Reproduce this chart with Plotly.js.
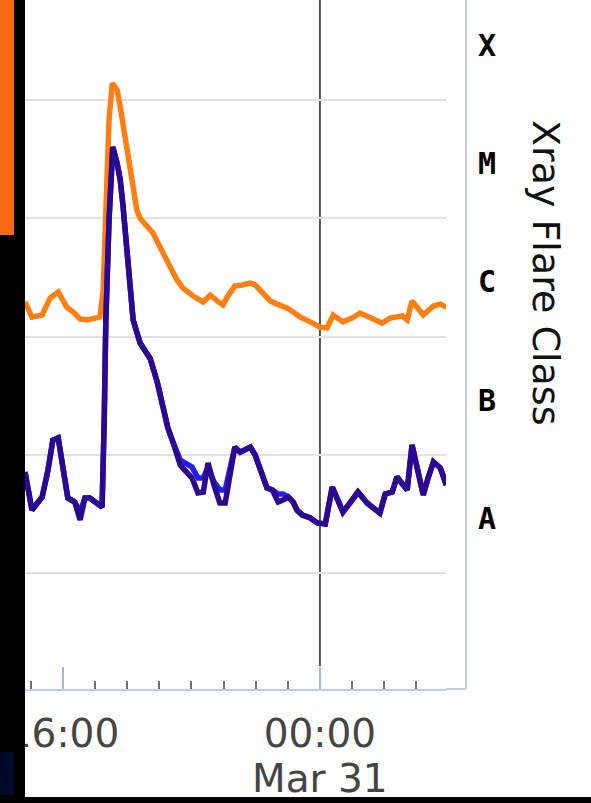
<!DOCTYPE html>
<html>
<head>
<meta charset="utf-8">
<script src="https://cdn.plot.ly/plotly-3.0.1.min.js"></script>
<style>
html,body{margin:0;padding:0;background:#fff;}
#chart{width:591px;height:803px;}
</style>
</head>
<body>
<div id="chart"></div>
<script>
// GOES X-ray flux, long channel (1-8 Å), W/m²
const longTimes = [
"2022-03-30 14:49","2022-03-30 15:02","2022-03-30 15:21","2022-03-30 15:36","2022-03-30 15:51",
"2022-03-30 16:07","2022-03-30 16:19","2022-03-30 16:32","2022-03-30 16:45","2022-03-30 17:09",
"2022-03-30 17:15","2022-03-30 17:20","2022-03-30 17:26","2022-03-30 17:32","2022-03-30 17:41",
"2022-03-30 17:47","2022-03-30 18:00","2022-03-30 18:11","2022-03-30 18:18","2022-03-30 18:24",
"2022-03-30 18:37","2022-03-30 18:48","2022-03-30 19:07","2022-03-30 19:20","2022-03-30 19:33",
"2022-03-30 19:44","2022-03-30 20:03","2022-03-30 20:22","2022-03-30 20:35","2022-03-30 20:48",
"2022-03-30 20:59","2022-03-30 21:08","2022-03-30 21:21","2022-03-30 21:35","2022-03-30 21:50",
"2022-03-30 21:59","2022-03-30 22:12","2022-03-30 22:27","2022-03-30 22:40","2022-03-30 22:59",
"2022-03-30 23:10","2022-03-30 23:23","2022-03-30 23:42","2022-03-31 00:00","2022-03-31 00:13",
"2022-03-31 00:25","2022-03-31 00:43","2022-03-31 01:00","2022-03-31 01:15","2022-03-31 01:34",
"2022-03-31 01:56","2022-03-31 02:11","2022-03-31 02:34","2022-03-31 02:43","2022-03-31 02:52",
"2022-03-31 03:13","2022-03-31 03:32","2022-03-31 03:45","2022-03-31 03:56"
];
const longFlux = [
1.96e-6,1.46e-6,1.52e-6,2.12e-6,2.38e-6,
1.77e-6,1.61e-6,1.41e-6,1.38e-6,1.46e-6,
2.47e-6,1.43e-5,6.77e-5,1.39e-4,1.22e-4,
8.73e-5,3.78e-5,1.73e-5,1.17e-5,1.00e-5,
8.60e-6,7.50e-6,5.08e-6,3.87e-6,3.01e-6,
2.57e-6,2.20e-6,1.96e-6,2.24e-6,2.00e-6,
1.85e-6,2.20e-6,2.67e-6,2.73e-6,2.83e-6,
2.73e-6,2.38e-6,2.00e-6,1.88e-6,1.74e-6,
1.61e-6,1.46e-6,1.33e-6,1.20e-6,1.18e-6,
1.52e-6,1.33e-6,1.43e-6,1.58e-6,1.43e-6,
1.30e-6,1.43e-6,1.49e-6,1.38e-6,2.00e-6,
1.52e-6,1.81e-6,1.88e-6,1.77e-6
];

// GOES X-ray flux, short channel (0.5-4 Å), W/m²
const shortTimes = [
"2022-03-30 14:49","2022-03-30 15:02","2022-03-30 15:21","2022-03-30 15:32","2022-03-30 15:41",
"2022-03-30 15:51","2022-03-30 16:09","2022-03-30 16:22","2022-03-30 16:32","2022-03-30 16:41",
"2022-03-30 16:50","2022-03-30 17:02","2022-03-30 17:13","2022-03-30 17:17","2022-03-30 17:20",
"2022-03-30 17:26","2022-03-30 17:30","2022-03-30 17:33","2022-03-30 17:41","2022-03-30 17:47",
"2022-03-30 17:52","2022-03-30 18:01","2022-03-30 18:11","2022-03-30 18:24","2022-03-30 18:33",
"2022-03-30 18:43","2022-03-30 18:56","2022-03-30 19:07","2022-03-30 19:16","2022-03-30 19:26",
"2022-03-30 19:39","2022-03-30 20:01","2022-03-30 20:12","2022-03-30 20:22","2022-03-30 20:31",
"2022-03-30 20:42","2022-03-30 20:53","2022-03-30 21:03","2022-03-30 21:12","2022-03-30 21:21",
"2022-03-30 21:31","2022-03-30 21:50","2022-03-30 21:59","2022-03-30 22:12","2022-03-30 22:21",
"2022-03-30 22:31","2022-03-30 22:42","2022-03-30 22:51","2022-03-30 23:01","2022-03-30 23:10",
"2022-03-30 23:17","2022-03-30 23:27","2022-03-30 23:42","2022-03-30 23:55","2022-03-31 00:10",
"2022-03-31 00:23","2022-03-31 00:32","2022-03-31 00:43","2022-03-31 00:56","2022-03-31 01:11",
"2022-03-31 01:28","2022-03-31 01:41","2022-03-31 01:52","2022-03-31 02:02","2022-03-31 02:15",
"2022-03-31 02:24","2022-03-31 02:34","2022-03-31 02:43","2022-03-31 02:52","2022-03-31 03:02",
"2022-03-31 03:13","2022-03-31 03:22","2022-03-31 03:32","2022-03-31 03:45","2022-03-31 03:56"
];
const shortFlux = [
7.14e-8,3.41e-8,4.39e-8,7.43e-8,1.33e-7,
1.39e-7,4.31e-8,3.98e-8,2.81e-8,4.31e-8,
4.31e-8,3.91e-8,3.61e-8,1.97e-7,1.38e-6,
9.66e-6,2.82e-5,4.01e-5,2.93e-5,2.10e-5,
1.29e-5,4.02e-6,1.38e-6,8.81e-7,7.69e-7,
6.50e-7,4.12e-7,2.39e-7,1.68e-7,1.26e-7,
8.19e-8,6.35e-8,4.75e-8,4.84e-8,8.51e-8,
5.55e-8,3.91e-8,3.91e-8,6.75e-8,1.16e-7,
1.05e-7,1.16e-7,9.95e-8,6.75e-8,5.24e-8,
5.04e-8,3.98e-8,4.14e-8,4.39e-8,3.98e-8,
3.41e-8,3.09e-8,2.92e-8,2.65e-8,2.60e-8,
5.33e-8,4.39e-8,3.28e-8,3.91e-8,4.84e-8,
3.91e-8,3.55e-8,3.21e-8,4.66e-8,4.84e-8,
6.49e-8,5.77e-8,5.04e-8,1.21e-7,7.43e-8,
4.57e-8,6.35e-8,8.69e-8,7.73e-8,5.55e-8
];
// secondary satellite, short channel
const shortFlux2 = [
7.14e-8,3.41e-8,4.39e-8,7.43e-8,1.33e-7,
1.39e-7,4.31e-8,3.98e-8,3.28e-8,4.31e-8,
4.31e-8,3.91e-8,3.61e-8,1.97e-7,1.38e-6,
9.66e-6,2.82e-5,4.01e-5,2.93e-5,2.10e-5,
1.29e-5,4.02e-6,1.38e-6,8.81e-7,7.69e-7,
6.50e-7,4.12e-7,2.39e-7,1.68e-7,1.26e-7,
9.03e-8,7.87e-8,6.35e-8,6.35e-8,7.87e-8,
5.89e-8,5.04e-8,5.04e-8,7.43e-8,1.16e-7,
1.05e-7,1.16e-7,9.95e-8,6.75e-8,5.24e-8,
5.04e-8,4.66e-8,4.66e-8,4.39e-8,3.98e-8,
3.41e-8,3.09e-8,2.92e-8,2.65e-8,2.60e-8,
5.33e-8,4.39e-8,3.28e-8,3.91e-8,4.84e-8,
3.91e-8,3.55e-8,3.21e-8,4.66e-8,4.84e-8,
6.49e-8,5.77e-8,5.04e-8,1.21e-7,7.43e-8,
4.57e-8,6.35e-8,8.69e-8,7.73e-8,5.55e-8
];

const decadeLines = [1e-8, 1e-7, 1e-6, 1e-5, 1e-4];
const classLabels = ["A", "B", "C", "M", "X"];
const classPos = [2.9e-8, 2.9e-7, 2.9e-6, 2.9e-5, 2.9e-4];
const timeTickVals = ["2022-03-30 16:00", "2022-03-31 00:00"];
const timeTickText = ["16:00", "00:00"];
const dayBoundary = "2022-03-31 00:00";
const dateLabel = "Mar 31";
const titleText = "Xray Flare Class";

// layout geometry (pixels)
const W = 591, H = 803, L = 25, R = 446, T = 0, B = 689;
const pw = R - L, ph = B - T;
const px = p => (p - L) / pw;
const py = p => (B - p) / ph;
const yRange = [-8.981, -3.154];
const xRange = ["2022-03-30 14:49", "2022-03-31 03:55:30"];

const traces = [
  {x: longTimes, y: longFlux, type: "scatter", mode: "lines",
   line: {color: "#ff7f12", width: 5.5}, hoverinfo: "skip", showlegend: false},
  {x: shortTimes, y: shortFlux2, type: "scatter", mode: "lines",
   line: {color: "#2020f0", width: 5.5}, hoverinfo: "skip", showlegend: false},
  {x: shortTimes, y: shortFlux, type: "scatter", mode: "lines",
   line: {color: "#2c0890", width: 5.5}, hoverinfo: "skip", showlegend: false},
  {x: longTimes, y: longFlux, type: "scatter", mode: "lines", yaxis: "y2",
   line: {width: 0}, opacity: 0, hoverinfo: "skip", showlegend: false}
];

const frameColor = "#c3cbe3";
const shapes = [
  {type: "line", xref: "x", yref: "paper", x0: dayBoundary, x1: dayBoundary,
   y0: py(666), y1: 1, line: {color: "#555555", width: 2}, layer: "between"},
  {type: "line", xref: "paper", yref: "paper", x0: px(466), x1: px(466), y0: 0, y1: 1,
   line: {color: frameColor, width: 2}, layer: "above"},
  {type: "line", xref: "paper", yref: "paper", x0: 1, x1: px(466), y0: 0, y1: 0,
   line: {color: frameColor, width: 2}, layer: "above"},
  // screen border / crop
  {type: "rect", xref: "paper", yref: "paper", x0: px(0), x1: px(25), y0: py(H), y1: 1,
   fillcolor: "#000000", line: {width: 0}, layer: "above"},
  {type: "rect", xref: "paper", yref: "paper", x0: px(0), x1: px(14), y0: py(235), y1: 1,
   fillcolor: "#f36a10", line: {width: 0}, layer: "above"},
  {type: "rect", xref: "paper", yref: "paper", x0: px(0), x1: px(14), y0: py(795), y1: py(752),
   fillcolor: "#000a26", line: {width: 0}, layer: "above"},
  {type: "rect", xref: "paper", yref: "paper", x0: px(0), x1: px(W), y0: py(H), y1: py(797),
   fillcolor: "#000000", line: {width: 0}, layer: "above"}
];

const layout = {
  width: W, height: H,
  margin: {l: L, r: W - R, t: T, b: H - B, pad: 0},
  paper_bgcolor: "#ffffff", plot_bgcolor: "#ffffff",
  showlegend: false,
  xaxis: {
    type: "date", range: xRange, fixedrange: true,
    showline: true, linecolor: frameColor, linewidth: 2,
    showgrid: false, zeroline: false,
    tickmode: "array", tickvals: timeTickVals, ticktext: timeTickText,
    ticks: "inside", ticklen: 22, tickwidth: 1.5, tickcolor: "#aab3e3",
    tickfont: {family: "DejaVu Sans", size: 39, color: "#444444"},
    ticklabelstandoff: 9,
    minor: {dtick: 3600000, tick0: "2022-03-30 00:00", ticks: "inside", ticklen: 8,
            tickwidth: 2, tickcolor: "#707070", showgrid: false}
  },
  yaxis: {
    type: "log", range: yRange, fixedrange: true,
    tickmode: "array", tickvals: decadeLines, showticklabels: false, ticks: "",
    showgrid: true, gridcolor: "#e1e1e1", gridwidth: 2,
    showline: false, zeroline: false
  },
  yaxis2: {
    type: "log", range: yRange, overlaying: "y", side: "right", fixedrange: true,
    tickmode: "array", tickvals: classPos, ticktext: classLabels, ticks: "",
    showgrid: false, showline: false, zeroline: false,
    tickfont: {family: "DejaVu Sans Mono", size: 30, color: "#000000", weight: "bold"},
    ticklabelstandoff: 31
  },
  annotations: [
    {text: titleText, xref: "paper", yref: "paper", x: px(546), y: py(272),
     xanchor: "center", yanchor: "middle", textangle: 90, showarrow: false,
     font: {family: "DejaVu Sans", size: 38, color: "#111111"}},
    {text: dateLabel, xref: "x", yref: "paper", x: dayBoundary, y: py(778),
     xanchor: "center", yanchor: "middle", showarrow: false,
     font: {family: "DejaVu Sans", size: 39, color: "#444444"}}
  ],
  shapes: shapes
};

Plotly.newPlot("chart", traces, layout, {displayModeBar: false, staticPlot: true});
</script>
</body>
</html>
